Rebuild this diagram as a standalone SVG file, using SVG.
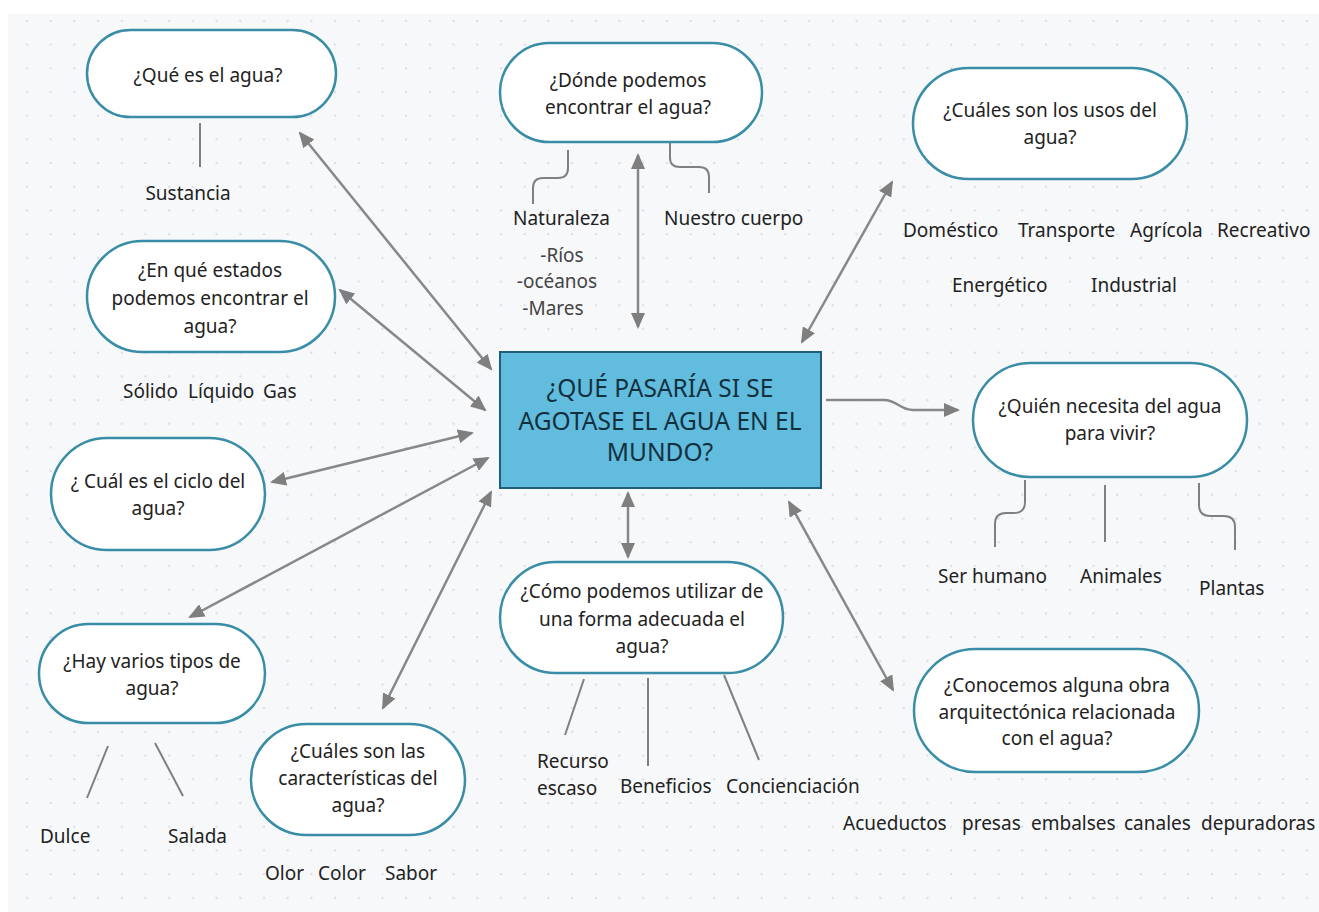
<svg xmlns="http://www.w3.org/2000/svg" width="1319" height="912" viewBox="0 0 1319 912">
<defs>
<pattern id="dots" x="25.8" y="19.8" width="23.7" height="23.7" patternUnits="userSpaceOnUse">
<circle cx="1.2" cy="1.2" r="1.1" fill="#d6d9de"/>
</pattern>
<marker id="ah" viewBox="0 0 16 14" refX="14" refY="7" markerWidth="16" markerHeight="14" markerUnits="userSpaceOnUse" orient="auto-start-reverse">
<path d="M0,0 L16,7 L0,14 Z" fill="#7f7f7f"/>
</marker>
<style>
.bg{fill:#f7f8fa}
.pill{fill:#ffffff;stroke:#3a8da6;stroke-width:2.5}
.main{fill:#62bcdd;stroke:#1f5e78;stroke-width:2}
.t{font-family:"Noto Sans","Open Sans","DejaVu Sans",sans-serif;font-size:19px;fill:#222222}
.c{text-anchor:middle}
.mt{font-family:"Noto Sans","Open Sans","DejaVu Sans",sans-serif;font-size:24.5px;fill:#13303f;text-anchor:middle}
.sub{fill:#444444}
.arr{fill:none;stroke:#888888;stroke-width:2.5;marker-start:url(#ah);marker-end:url(#ah)}
.arr1{fill:none;stroke:#888888;stroke-width:2.5;marker-end:url(#ah)}
.ln{fill:none;stroke:#808080;stroke-width:2}
</style>
</defs>
<rect x="0" y="0" width="1319" height="912" fill="#ffffff"/>
<rect class="bg" x="8" y="14" width="1311" height="898"/>
<rect x="8" y="14" width="1311" height="898" fill="url(#dots)"/>

<g id="connectors">
<line class="arr" x1="300" y1="133" x2="491" y2="369"/>
<line class="arr" x1="340" y1="290" x2="485" y2="410"/>
<line class="arr" x1="272" y1="482" x2="472" y2="433"/>
<line class="arr" x1="190" y1="617" x2="488" y2="458"/>
<line class="arr" x1="383" y1="708" x2="491" y2="492"/>
<line class="arr" x1="638" y1="155" x2="638" y2="327"/>
<line class="arr" x1="802" y1="342" x2="892" y2="182"/>
<line class="arr" x1="628" y1="493" x2="628" y2="557"/>
<line class="arr" x1="789" y1="502" x2="893" y2="690"/>
<path class="arr1" d="M826 400 H884 C897 400 900 410 913 410 H958"/>
<line class="ln" x1="200" y1="123" x2="200" y2="167"/>
<path class="ln" d="M568 150 V168 Q568 178 558 178 H543 Q533 178 533 188 V204"/>
<path class="ln" d="M670 143 V158 Q670 167 680 167 H699 Q709 167 709 177 V193"/>
<path class="ln" d="M1025 480 V502 Q1025 513 1014 513 H1006 Q995 513 995 524 V547"/>
<line class="ln" x1="1105" y1="485" x2="1105" y2="542"/>
<path class="ln" d="M1199 483 V505 Q1199 516 1210 516 H1224 Q1235 516 1235 527 V550"/>
<line class="ln" x1="108" y1="746" x2="87" y2="798"/>
<line class="ln" x1="155" y1="743" x2="183" y2="796"/>
<line class="ln" x1="584" y1="679" x2="565" y2="735"/>
<line class="ln" x1="648" y1="678" x2="648" y2="766"/>
<line class="ln" x1="724" y1="675" x2="759" y2="760"/>
</g>

<g id="central">
<rect class="main" x="500" y="352" width="321" height="136"/>
<text class="mt" x="660" y="397">¿QUÉ PASARÍA SI SE</text>
<text class="mt" x="660" y="430">AGOTASE EL AGUA EN EL</text>
<text class="mt" x="660" y="461">MUNDO?</text>
</g>

<g id="que-es">
<rect class="pill" x="87" y="30" width="249" height="87" rx="43.5"/>
<text class="t c" x="208" y="82">¿Qué es el agua?</text>
<text class="t c" x="188" y="200">Sustancia</text>
</g>

<g id="estados">
<rect class="pill" x="87" y="241" width="248" height="111" rx="55.5"/>
<text class="t c" x="210" y="277">¿En qué estados</text>
<text class="t c" x="210" y="305">podemos encontrar el</text>
<text class="t c" x="210" y="333">agua?</text>
<text class="t" x="123" y="398">Sólido</text>
<text class="t" x="188" y="398">Líquido</text>
<text class="t" x="263" y="398">Gas</text>
</g>

<g id="ciclo">
<rect class="pill" x="51" y="438" width="214" height="112" rx="56"/>
<text class="t c" x="158" y="488">¿ Cuál es el ciclo del</text>
<text class="t c" x="158" y="515">agua?</text>
</g>

<g id="tipos">
<rect class="pill" x="39" y="624" width="226" height="99" rx="49.5"/>
<text class="t c" x="152" y="668">¿Hay varios tipos de</text>
<text class="t c" x="152" y="695">agua?</text>
<text class="t" x="40" y="843">Dulce</text>
<text class="t" x="168" y="843">Salada</text>
</g>

<g id="caracteristicas">
<rect class="pill" x="251" y="724" width="214" height="111" rx="55.5"/>
<text class="t c" x="358" y="758">¿Cuáles son las</text>
<text class="t c" x="358" y="785">características del</text>
<text class="t c" x="358" y="812">agua?</text>
<text class="t" x="265" y="880">Olor</text>
<text class="t" x="318" y="880">Color</text>
<text class="t" x="385" y="880">Sabor</text>
</g>

<g id="donde">
<rect class="pill" x="500" y="43" width="262" height="99" rx="49.5"/>
<text class="t c" x="628" y="87">¿Dónde podemos</text>
<text class="t c" x="628" y="114">encontrar el agua?</text>
<text class="t" x="513" y="225">Naturaleza</text>
<text class="t" x="664" y="225">Nuestro cuerpo</text>
<text class="t c sub" x="562" y="262">-Ríos</text>
<text class="t c sub" x="557" y="288">-océanos</text>
<text class="t c sub" x="553" y="315">-Mares</text>
</g>

<g id="usos">
<rect class="pill" x="913" y="68" width="274" height="111" rx="55.5"/>
<text class="t c" x="1050" y="117">¿Cuáles son los usos del</text>
<text class="t c" x="1050" y="144">agua?</text>
<text class="t" x="903" y="237">Doméstico</text>
<text class="t" x="1018" y="237">Transporte</text>
<text class="t" x="1130" y="237">Agrícola</text>
<text class="t" x="1217" y="237">Recreativo</text>
<text class="t" x="952" y="292">Energético</text>
<text class="t" x="1091" y="292">Industrial</text>
</g>

<g id="quien">
<rect class="pill" x="973" y="363" width="274" height="114" rx="57"/>
<text class="t c" x="1110" y="413">¿Quién necesita del agua</text>
<text class="t c" x="1110" y="440">para vivir?</text>
<text class="t" x="938" y="583">Ser humano</text>
<text class="t" x="1080" y="583">Animales</text>
<text class="t" x="1199" y="595">Plantas</text>
</g>

<g id="como">
<rect class="pill" x="500" y="562" width="283" height="111" rx="55.5"/>
<text class="t c" x="642" y="598">¿Cómo podemos utilizar de</text>
<text class="t c" x="642" y="626">una forma adecuada el</text>
<text class="t c" x="642" y="653">agua?</text>
<text class="t" x="537" y="768">Recurso</text>
<text class="t" x="537" y="795">escaso</text>
<text class="t" x="620" y="793">Beneficios</text>
<text class="t" x="726" y="793">Concienciación</text>
</g>

<g id="conocemos">
<rect class="pill" x="914" y="649" width="285" height="123" rx="61.5"/>
<text class="t c" x="1057" y="692">¿Conocemos alguna obra</text>
<text class="t c" x="1057" y="719">arquitectónica relacionada</text>
<text class="t c" x="1057" y="745">con el agua?</text>
<text class="t" x="843" y="830">Acueductos</text>
<text class="t" x="962" y="830">presas</text>
<text class="t" x="1031" y="830">embalses</text>
<text class="t" x="1124" y="830">canales</text>
<text class="t" x="1201" y="830">depuradoras</text>
</g>
</svg>
